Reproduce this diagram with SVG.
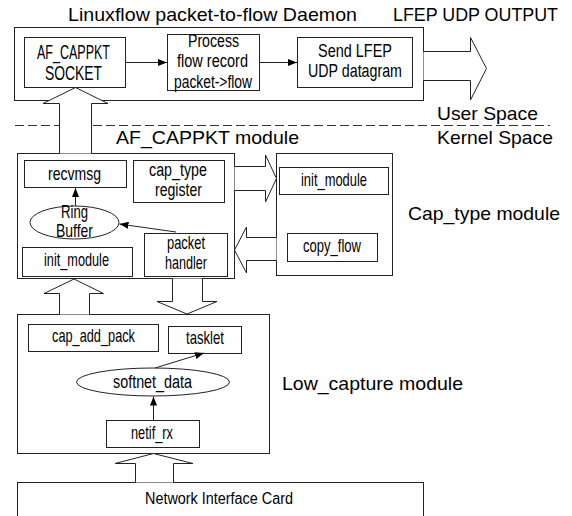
<svg xmlns="http://www.w3.org/2000/svg" width="572" height="516" viewBox="0 0 572 516">
<style>
.box{fill:#fff;stroke:#222;stroke-width:1}
.big{fill:#fff;stroke:#222;stroke-width:1;stroke-linejoin:miter}
.ln{fill:none;stroke:#222;stroke-width:1}
.t{font-family:"Liberation Sans",Arial,sans-serif;font-size:18.5px;fill:#000}
.h{font-family:"Liberation Sans",Arial,sans-serif;font-size:19px;fill:#000}
</style>
<defs>
<marker id="ah" viewBox="0 0 9 7" refX="9" refY="3.5" markerWidth="9" markerHeight="7" markerUnits="userSpaceOnUse" orient="auto">
<path d="M0,0 L9,3.5 L0,7 Z" fill="#000"/>
</marker>
</defs>
<rect width="572" height="516" fill="#fff"/>

<!-- free labels -->
<text class="h" x="68" y="21" textLength="289" lengthAdjust="spacingAndGlyphs">Linuxflow packet-to-flow Daemon</text>
<text class="h" x="393" y="20.5" textLength="165" lengthAdjust="spacingAndGlyphs">LFEP UDP OUTPUT</text>
<text class="h" x="437" y="120" textLength="101" lengthAdjust="spacingAndGlyphs">User Space</text>
<text class="h" x="437" y="144" textLength="116" lengthAdjust="spacingAndGlyphs">Kernel Space</text>
<line x1="15" y1="125.5" x2="550" y2="125.5" stroke="#333" stroke-width="1" stroke-dasharray="9,4"/>
<text class="h" x="116" y="144" textLength="183" lengthAdjust="spacingAndGlyphs">AF_CAPPKT module</text>
<text class="h" x="408" y="220" textLength="152" lengthAdjust="spacingAndGlyphs">Cap_type module</text>
<text class="h" x="282" y="390" textLength="181" lengthAdjust="spacingAndGlyphs">Low_capture module</text>

<!-- Daemon -->
<g id="daemon">
<rect class="box" x="14.5" y="27.5" width="409" height="73"/>
</g>
<g id="socket">
<rect class="box" x="24.5" y="37.5" width="101" height="50"/>
<text class="t" x="37" y="59" style="font-size:19.5px" textLength="73" lengthAdjust="spacingAndGlyphs">AF_CAPPKT</text>
<text class="t" x="45" y="80" style="font-size:19.5px" textLength="57" lengthAdjust="spacingAndGlyphs">SOCKET</text>
</g>
<g id="process">
<rect class="box" x="167.5" y="34.5" width="92" height="56"/>
<text class="t" x="188" y="46.5" style="font-size:17.5px" textLength="51" lengthAdjust="spacingAndGlyphs">Process</text>
<text class="t" x="177" y="67" style="font-size:17.5px" textLength="71" lengthAdjust="spacingAndGlyphs">flow record</text>
<text class="t" x="174" y="88" style="font-size:17.5px" textLength="78" lengthAdjust="spacingAndGlyphs">packet-&gt;flow</text>
</g>
<g id="send">
<rect class="box" x="297.5" y="37.5" width="115" height="50"/>
<text class="t" x="318" y="57" style="font-size:19px" textLength="74" lengthAdjust="spacingAndGlyphs">Send LFEP</text>
<text class="t" x="308" y="77" style="font-size:19px" textLength="94" lengthAdjust="spacingAndGlyphs">UDP datagram</text>
</g>

<!-- AF_CAPPKT module -->
<g id="afmodule">
<rect class="box" x="17.5" y="153.5" width="217" height="125"/>
</g>
<g id="recvmsg">
<rect class="box" x="24.5" y="160.5" width="102" height="27"/>
<text class="t" x="48" y="180" textLength="53" lengthAdjust="spacingAndGlyphs">recvmsg</text>
</g>
<g id="captypereg">
<rect class="box" x="133.5" y="160.5" width="91" height="42"/>
<text class="t" x="149" y="176" style="font-size:18px" textLength="58" lengthAdjust="spacingAndGlyphs">cap_type</text>
<text class="t" x="155" y="196" style="font-size:18px" textLength="47" lengthAdjust="spacingAndGlyphs">register</text>
</g>
<g id="ringbuffer">
<ellipse class="box" cx="74.5" cy="222.5" rx="44.5" ry="16.5"/>
<text class="t" x="61" y="218" textLength="27" lengthAdjust="spacingAndGlyphs">Ring</text>
<text class="t" x="56" y="237" textLength="37" lengthAdjust="spacingAndGlyphs">Buffer</text>
</g>
<g id="afinit">
<rect class="box" x="22.5" y="247.5" width="110" height="29"/>
<text class="t" x="44" y="266" textLength="65" lengthAdjust="spacingAndGlyphs">init_module</text>
</g>
<g id="pkthandler">
<rect class="box" x="144.5" y="233.5" width="83" height="43"/>
<text class="t" x="167" y="249" textLength="38" lengthAdjust="spacingAndGlyphs">packet</text>
<text class="t" x="165" y="269" textLength="42" lengthAdjust="spacingAndGlyphs">handler</text>
</g>

<!-- Cap_type module -->
<g id="captypemodule">
<rect class="box" x="276.5" y="153.5" width="116" height="122"/>
</g>
<g id="ctinit">
<rect class="box" x="279.5" y="167.5" width="109" height="27"/>
<text class="t" x="301" y="186" textLength="66" lengthAdjust="spacingAndGlyphs">init_module</text>
</g>
<g id="copyflow">
<rect class="box" x="287.5" y="233.5" width="90" height="28"/>
<text class="t" x="303" y="252" textLength="58" lengthAdjust="spacingAndGlyphs">copy_flow</text>
</g>

<!-- Low_capture module -->
<g id="lowcapture">
<rect class="box" x="17.5" y="314.5" width="252" height="139"/>
</g>
<g id="capaddpack">
<rect class="box" x="28.5" y="324.5" width="130" height="27"/>
<text class="t" x="52" y="342" textLength="83" lengthAdjust="spacingAndGlyphs">cap_add_pack</text>
</g>
<g id="tasklet">
<rect class="box" x="168.5" y="326.5" width="73" height="27"/>
<text class="t" x="186" y="344" textLength="38" lengthAdjust="spacingAndGlyphs">tasklet</text>
</g>
<g id="softnet">
<ellipse class="box" cx="153" cy="382" rx="76.5" ry="14"/>
<text class="t" x="113" y="388" textLength="79" lengthAdjust="spacingAndGlyphs">softnet_data</text>
</g>
<g id="netifrx">
<rect class="box" x="106.5" y="420.5" width="93" height="27"/>
<text class="t" x="131" y="439" textLength="42" lengthAdjust="spacingAndGlyphs">netif_rx</text>
</g>

<!-- NIC -->
<g id="nic">
<rect class="box" x="17.5" y="482.5" width="406" height="50"/>
<text class="t" x="145" y="504" style="font-size:16px" textLength="148" lengthAdjust="spacingAndGlyphs">Network Interface Card</text>
</g>

<!-- connectors -->
<g id="connectors">
<line class="ln" x1="125.5" y1="62.5" x2="167" y2="62.5" marker-end="url(#ah)"/>
<line class="ln" x1="259.5" y1="62.5" x2="297" y2="62.5" marker-end="url(#ah)"/>
<line class="ln" x1="75.5" y1="206" x2="75.5" y2="188" marker-end="url(#ah)"/>
<line class="ln" x1="176" y1="232" x2="119.5" y2="224" marker-end="url(#ah)"/>
<line class="ln" x1="155" y1="368" x2="204" y2="353" marker-end="url(#ah)"/>
<line class="ln" x1="153.5" y1="420" x2="153.5" y2="396.5" marker-end="url(#ah)"/>

<!-- block arrows -->
<path class="big" d="M423.5,51.5 H470.5 V37.5 L486.5,68.5 L470.5,100 V80.5 H423.5"/>
<path class="big" d="M59.5,153.5 V103.5 H43 L75.5,87.5 L108,103.5 H91.5 V153.5"/>
<path class="big" d="M234.5,166.5 H265.5 V155 L276.5,178.5 L265.5,202 V190.5 H234.5"/>
<path class="big" d="M276.5,237.5 H246.5 V227 L234.5,250 L246.5,273 V260.5 H276.5"/>
<path class="big" d="M172.5,278.5 V301.5 H157 L187,314 L217,301.5 H202.5 V278.5"/>
<path class="big" d="M59.5,314.5 V293.5 H44 L74,279 L103.5,293.5 H89.5 V314.5"/>
<path class="big" d="M135.5,482.5 V463.5 H115 L153.5,453.5 L193,463.5 H173.5 V482.5"/>
</g>
</svg>
